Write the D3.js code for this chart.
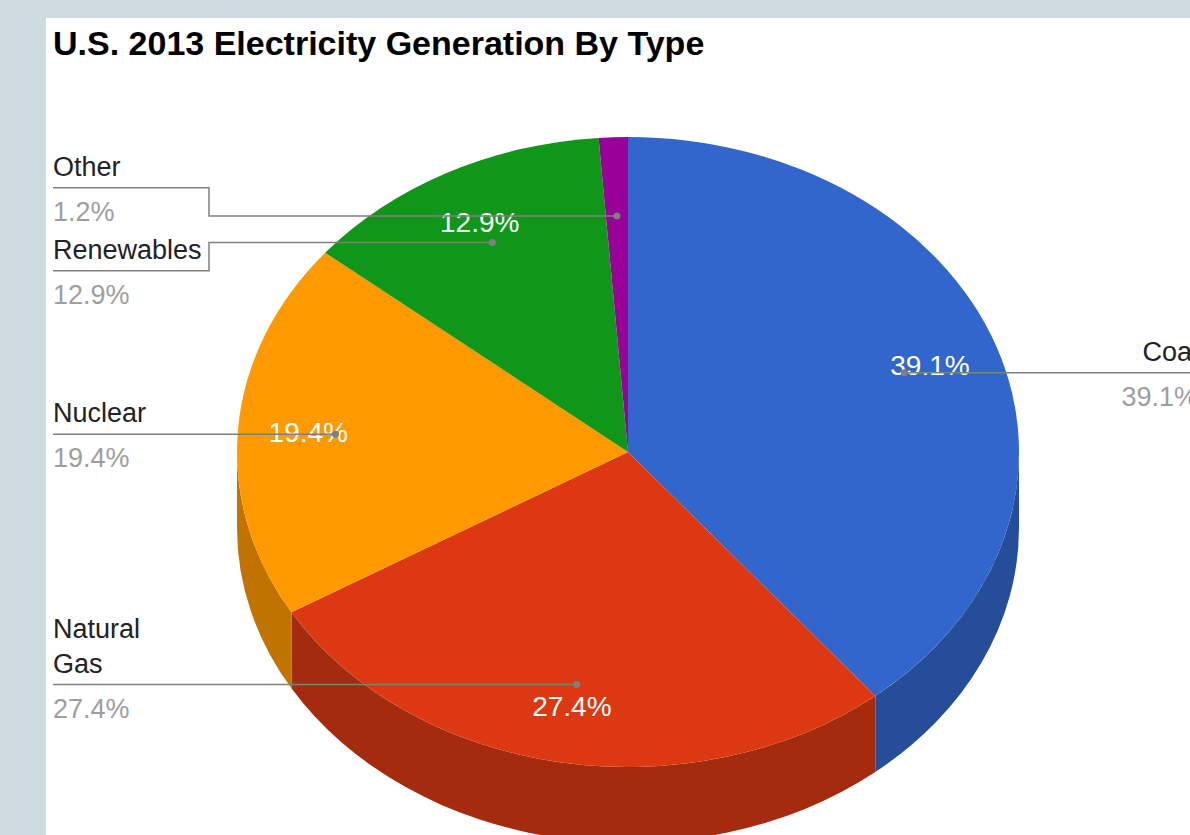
<!DOCTYPE html>
<html>
<head>
<meta charset="utf-8">
<script src="https://cdnjs.cloudflare.com/ajax/libs/d3/7.8.5/d3.min.js"></script>
<style>
	html, body { margin: 0; padding: 0; background: #cfdbe0; overflow: hidden; }
	svg { display: block; }
</style>
</head>
<body>
<div id="chart"></div>
<script>
var chartTitle = "U.S. 2013 Electricity Generation By Type";
var categories = ["Coal", "Natural Gas", "Nuclear", "Renewables", "Other"];
var shares = [39.1, 27.4, 19.4, 12.9, 1.2];
var colours = ["#3366cc", "#dc3912", "#ff9900", "#109618", "#990099"];

var width = 1190, height = 835,
	cx = 628, cy = 452, rx = 391, ry = 315, depth = 76,
	font = "Arial, 'Liberation Sans', sans-serif",
	leftX = 53, rightX = 1198, columnWidth = 156, wrapWidth = 140;

var svg = d3.select("#chart").append("svg")
	.attr("width", width)
	.attr("height", height);

// white card over the grey page
svg.append("rect")
	.attr("x", 46).attr("y", 18)
	.attr("width", width - 46).attr("height", height - 18)
	.attr("fill", "#ffffff");

svg.append("text")
	.attr("x", 53).attr("y", 55)
	.style("font-family", font)
	.style("font-size", "34px")
	.style("font-weight", "bold")
	.attr("fill", "#000000")
	.text(chartTitle);

var data = categories.map(function (c, i) {
	return { name: c, share: shares[i], colour: colours[i] };
});

var pie = d3.pie().sort(null).value(function (d) { return d.share; });
var slices = pie(data);

function point(a, r, dy) {
	return [cx + rx * r * Math.sin(a), cy - ry * r * Math.cos(a) + (dy || 0)];
}

// only the front half of the rim can be seen
function sidePath(a0, a1) {
	a0 = Math.max(a0, Math.PI / 2);
	a1 = Math.min(a1, Math.PI * 1.5);
	if (a1 <= a0) return null;
	var p0 = point(a0, 1), p1 = point(a1, 1),
		q1 = point(a1, 1, depth), q0 = point(a0, 1, depth);
	return "M" + p0 + "A" + rx + "," + ry + " 0 0 1 " + p1 +
		"L" + q1 + "A" + rx + "," + ry + " 0 0 0 " + q0 + "Z";
}

svg.append("g").selectAll("path")
	.data(slices.filter(function (d) { return sidePath(d.startAngle, d.endAngle); }))
	.enter()
	.append("path")
	.attr("d", function (d) { return sidePath(d.startAngle, d.endAngle); })
	.attr("fill", function (d) { return d3.color(d.data.colour).darker(0.8); });

var arc = d3.arc().innerRadius(0).outerRadius(rx);

svg.append("g")
	.attr("transform", "translate(" + cx + "," + cy + ") scale(1," + (ry / rx) + ")")
	.selectAll("path")
	.data(slices)
	.enter()
	.append("path")
	.attr("d", arc)
	.attr("fill", function (d) { return d.data.colour; });

function midAngle(d) { return (d.startAngle + d.endAngle) / 2; }

// percentages inside the slices (tiny slices get none)
svg.append("g").selectAll("text")
	.data(slices.filter(function (d) { return d.data.share >= 5; }))
	.enter()
	.append("text")
	.attr("x", function (d) { return point(midAngle(d), 0.82)[0]; })
	.attr("y", function (d) { return point(midAngle(d), 0.82)[1]; })
	.attr("text-anchor", "middle")
	.attr("dominant-baseline", "central")
	.style("font-family", font)
	.style("font-size", "28px")
	.attr("fill", "#ffffff")
	.text(function (d) { return d.data.share.toFixed(1) + "%"; });

// measure names so long ones wrap onto two lines
var measure = svg.append("text").style("font-family", font).style("font-size", "27px");
function wrap(name) {
	var words = name.split(" "), lines = [], line = "";
	words.forEach(function (w) {
		var test = line ? line + " " + w : w;
		measure.text(test);
		if (line && measure.node().getComputedTextLength() > wrapWidth) {
			lines.push(line);
			line = w;
		} else {
			line = test;
		}
	});
	lines.push(line);
	return lines;
}

var labels = slices.map(function (d) {
	var dot = point(midAngle(d), 0.75);
	return {
		slice: d,
		dotX: dot[0],
		dotY: dot[1],
		left: Math.sin(midAngle(d)) < 0,
		lines: wrap(d.data.name)
	};
});
measure.remove();

function gapAbove(l) { return 83 + (l.lines.length - 1) * 35; }

// push overlapping labels apart, keeping each cluster centred on its dots
function layout(items) {
	items.sort(function (a, b) { return a.dotY - b.dotY; });
	var clusters = items.map(function (l) { return { items: [l], offsets: [0] }; });
	function place(c) {
		c.y = d3.mean(c.items, function (l, i) { return l.dotY - c.offsets[i]; });
	}
	clusters.forEach(place);
	var merged = true;
	while (merged) {
		merged = false;
		for (var i = 1; i < clusters.length; i++) {
			var a = clusters[i - 1], b = clusters[i],
				aLast = a.y + a.offsets[a.offsets.length - 1],
				need = gapAbove(b.items[0]);
			if (b.y - aLast < need) {
				var base = a.offsets[a.offsets.length - 1] + need;
				b.items.forEach(function (l, j) {
					a.items.push(l);
					a.offsets.push(base + b.offsets[j]);
				});
				place(a);
				clusters.splice(i, 1);
				merged = true;
				break;
			}
		}
	}
	clusters.forEach(function (c) {
		c.items.forEach(function (l, i) { l.lineY = c.y + c.offsets[i]; });
	});
}

layout(labels.filter(function (l) { return l.left; }));
layout(labels.filter(function (l) { return !l.left; }));

var labelGroup = svg.append("g");

labels.forEach(function (l) {
	var x = l.left ? leftX : rightX,
		elbow = l.left ? leftX + columnWidth : rightX - columnWidth,
		anchor = l.left ? "start" : "end";

	labelGroup.append("path")
		.attr("d", "M" + x + "," + l.lineY + "H" + elbow + "V" + l.dotY + "H" + l.dotX)
		.attr("fill", "none")
		.attr("stroke", "#7f7f7f")
		.attr("stroke-width", 1.5);

	labelGroup.append("circle")
		.attr("cx", l.dotX).attr("cy", l.dotY)
		.attr("r", 3.5)
		.attr("fill", "#7f7f7f");

	l.lines.forEach(function (line, i) {
		labelGroup.append("text")
			.attr("x", x)
			.attr("y", l.lineY - 12 - (l.lines.length - 1 - i) * 35)
			.attr("text-anchor", anchor)
			.style("font-family", font)
			.style("font-size", "27px")
			.attr("fill", "#222222")
			.text(line);
	});

	labelGroup.append("text")
		.attr("x", x)
		.attr("y", l.lineY + 33)
		.attr("text-anchor", anchor)
		.style("font-family", font)
		.style("font-size", "27px")
		.attr("fill", "#9e9e9e")
		.text(l.slice.data.share.toFixed(1) + "%");
});
</script>
</body>
</html>
